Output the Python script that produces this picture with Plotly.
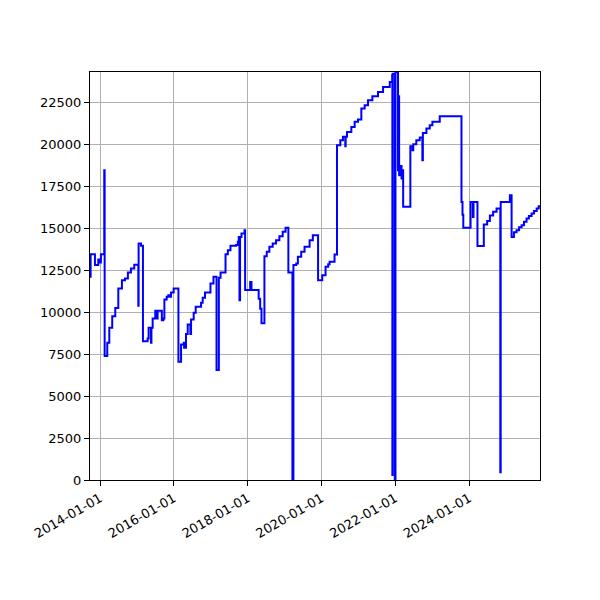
import plotly.graph_objects as go

# date from which each value holds (step series)
dates = [
    "2013-09-24", "2013-09-30", "2013-11-12", "2013-12-15", "2013-12-28", "2014-01-10",
    "2014-02-12", "2014-02-16", "2014-03-14", "2014-04-03", "2014-05-02", "2014-06-01",
    "2014-07-01", "2014-08-06", "2014-09-05", "2014-10-04", "2014-11-03", "2014-12-06",
    "2015-01-15", "2015-01-18", "2015-02-11", "2015-03-02", "2015-04-17", "2015-04-27",
    "2015-05-20", "2015-05-25", "2015-06-06", "2015-07-02", "2015-07-19", "2015-07-25",
    "2015-09-05", "2015-09-20", "2015-09-30", "2015-10-23", "2015-11-08", "2015-11-15",
    "2015-12-05", "2015-12-31", "2016-02-16", "2016-03-13", "2016-04-09", "2016-04-12",
    "2016-05-01", "2016-05-18", "2016-06-13", "2016-06-20", "2016-07-16", "2016-08-05",
    "2016-09-27", "2016-10-13", "2016-11-05", "2016-12-29", "2017-01-28", "2017-02-27",
    "2017-03-22", "2017-04-08", "2017-05-27", "2017-06-19", "2017-07-15", "2017-09-09",
    "2017-09-26", "2017-10-05", "2017-10-12", "2017-10-18", "2017-11-01", "2017-12-01",
    "2017-12-07", "2018-01-26", "2018-02-08", "2018-04-20", "2018-05-05", "2018-05-18",
    "2018-06-16", "2018-07-09", "2018-08-04", "2018-09-06", "2018-10-09", "2018-11-11",
    "2018-12-14", "2019-01-11", "2019-02-08", "2019-03-20", "2019-03-30", "2019-04-27",
    "2019-05-13", "2019-06-15", "2019-07-18", "2019-09-06", "2019-10-08", "2019-11-29",
    "2020-01-09", "2020-02-11", "2020-03-08", "2020-03-22", "2020-05-10", "2020-06-03",
    "2020-07-06", "2020-08-01", "2020-08-24", "2020-08-28", "2020-09-10", "2020-10-23",
    "2020-11-25", "2020-12-28", "2021-01-30", "2021-03-04", "2021-04-06", "2021-05-19",
    "2021-07-14", "2021-09-02", "2021-11-07", "2021-12-01", "2021-12-03", "2021-12-06",
    "2021-12-27", "2022-01-03", "2022-01-28", "2022-02-02", "2022-02-08", "2022-02-20",
    "2022-03-04", "2022-03-10", "2022-03-20", "2022-05-30", "2022-06-20", "2022-06-28",
    "2022-07-28", "2022-08-31", "2022-09-26", "2022-10-01", "2022-11-05", "2022-12-08",
    "2023-01-03", "2023-03-17", "2023-10-18", "2023-10-28", "2023-11-05", "2024-01-16",
    "2024-02-08", "2024-02-14", "2024-03-24", "2024-05-26", "2024-06-28", "2024-07-25",
    "2024-08-26", "2024-09-29", "2024-11-05", "2024-11-09", "2025-02-08", "2025-02-25",
    "2025-03-20", "2025-04-15", "2025-05-10", "2025-06-04", "2025-06-28", "2025-07-23",
    "2025-08-15", "2025-09-11", "2025-10-05", "2025-10-31", "2025-11-20", "2025-12-03",
]
values = [
    12100, 13450, 12800, 13130, 12950, 13450,
    18450, 7380, 8170, 9070, 9760, 10240,
    11410, 11900, 12000, 12360, 12600, 12820,
    10380, 14090, 13950, 8270, 8430, 9070,
    8170, 9070, 9620, 10080, 9620, 10080,
    9520, 9620, 10750, 10910, 11010, 10910,
    11170, 11410, 7040, 8070, 8170, 7870,
    8690, 9260, 8690, 9560, 9960, 10320,
    10550, 10850, 11170, 11700, 12100, 6550,
    12040, 12360, 13450, 13690, 13950, 14000,
    14190, 14480, 10710, 14480, 14680, 14880,
    11310, 11800, 11310, 10800, 10200, 9330,
    13330, 13590, 13890, 14080, 14280, 14520,
    14780, 15020, 12360, 0, 12800, 12900,
    13290, 13590, 13890, 14280, 14580, 11900,
    12200, 12700, 12850, 13000, 13430, 19940,
    20240, 20440, 19880, 20440, 20730, 21030,
    21330, 21470, 22120, 22320, 22620, 22860,
    23110, 23410, 23710, 24100, 300, 24200,
    0, 24300, 18450, 22860, 18150, 18700,
    17960, 18450, 16270, 19880, 19640, 20000,
    20240, 20400, 19050, 20670, 20930, 21130,
    21330, 21670, 16560, 15800, 15020, 16560,
    15670, 16560, 13930, 15220, 15430, 15750,
    15970, 16170, 460, 16560, 16960, 14480,
    14750, 14880, 15050, 15180, 15380, 15570,
    15720, 15870, 16020, 16170, 16300, 16370,
]

x_ticks = ["2014-01-01", "2016-01-01", "2018-01-01", "2020-01-01", "2022-01-01", "2024-01-01"]
y_ticks = [0, 2500, 5000, 7500, 10000, 12500, 15000, 17500, 20000, 22500]

fig = go.Figure()
fig.add_trace(go.Scatter(
    x=dates, y=values, mode="lines", line_shape="hv",
    line=dict(color="blue", width=2), showlegend=False
))

axis_style = dict(
    showline=True, linecolor="black", linewidth=1, mirror=True,
    showgrid=True, gridcolor="#b0b0b0", gridwidth=1,
    ticks="outside", ticklen=5, tickcolor="black", zeroline=False,
    tickfont=dict(family="DejaVu Sans", size=13, color="black"),
)
fig.update_xaxes(range=[dates[0], dates[-1]], tickvals=x_ticks, ticktext=x_ticks,
                 tickangle=-30, **axis_style)
fig.update_yaxes(range=[0, 24300], tickvals=y_ticks, ticktext=[str(v) for v in y_ticks],
                 **axis_style)

# page body adds 8px offset, margins compensate
fig.update_layout(
    width=600, height=600,
    margin=dict(l=82, r=68, t=64, b=128),
    paper_bgcolor="white", plot_bgcolor="white",
)
fig.write_html("out.html")
